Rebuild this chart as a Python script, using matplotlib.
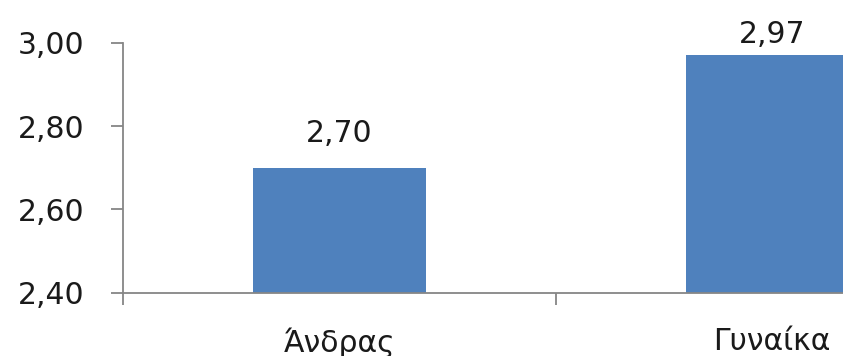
import matplotlib
matplotlib.use("Agg")
import matplotlib.pyplot as plt

# mean score by gender
categories = ["Άνδρας", "Γυναίκα"]
values = [2.70, 2.97]
y_ticks = [2.40, 2.60, 2.80, 3.00]

plt.rcParams['font.family'] = ['DejaVu Sans']

fig = plt.figure(figsize=(8.43, 3.56), dpi=100)
# plot area runs past the right edge of the image
ax = fig.add_axes([123 / 843, 63.3 / 356, 865.4 / 843, 250 / 356])

x = list(range(len(categories)))
ax.bar(x, [v - y_ticks[0] for v in values], bottom=y_ticks[0], width=0.4,
       color="#4F81BD", zorder=2)

ax.set_ylim(y_ticks[0], y_ticks[-1])
ax.set_xlim(-0.5, len(categories) - 0.5)

ax.set_yticks(y_ticks)
ax.set_yticklabels([f"{t:.2f}".replace(".", ",") for t in y_ticks])

# boundary ticks between categories, labels centred under bars
ax.set_xticks([i - 0.5 for i in range(len(categories) + 1)])
ax.set_xticklabels([])
ax.set_xticks(x, minor=True)
ax.set_xticklabels(categories, minor=True)

axis_color = "#868686"
for side in ["top", "right"]:
    ax.spines[side].set_visible(False)
for side in ["left", "bottom"]:
    ax.spines[side].set_color(axis_color)
    ax.spines[side].set_linewidth(1.3)

ax.tick_params(axis="both", which="major", direction="out", length=8.6,
               width=1.3, color=axis_color, labelsize=21.5, labelcolor="#1a1a1a")
ax.tick_params(axis="y", pad=19)
ax.tick_params(axis="x", which="minor", length=0, labelsize=21.5,
               labelcolor="#1a1a1a", pad=25)

# value labels above the bars
label_gaps = [26, 12]
for xi, v, gap in zip(x, values, label_gaps):
    ax.annotate(f"{v:.2f}".replace(".", ","), (xi, v), xytext=(0, gap),
                textcoords="offset pixels", ha="center", va="baseline",
                fontsize=21.5, color="#1a1a1a", annotation_clip=False)

fig.savefig("out.png", dpi=100)
